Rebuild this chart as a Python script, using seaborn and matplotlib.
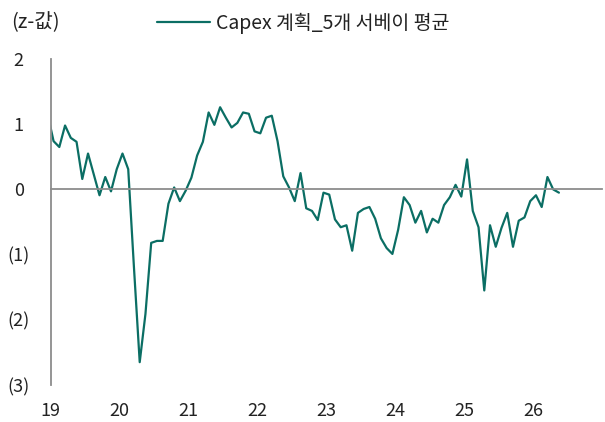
import numpy as np
import pandas as pd
import matplotlib
matplotlib.use("Agg")
import matplotlib.pyplot as plt
import seaborn as sns

# Monthly values, Dec 2018 .. May 2026 (Dec 2018 only shows as the clipped start)
start_year = 2018
start_month = 12
values = [
    1.14,
    # 2019
    0.74, 0.65, 0.98, 0.79, 0.73, 0.16, 0.55, 0.23, -0.09, 0.19, -0.03, 0.31,
    # 2020
    0.55, 0.31, -1.20, -2.65, -1.91, -0.82, -0.79, -0.79, -0.22, 0.03, -0.18, -0.02,
    # 2021
    0.18, 0.52, 0.73, 1.18, 0.99, 1.26, 1.10, 0.95, 1.02, 1.18, 1.16, 0.89,
    # 2022
    0.86, 1.10, 1.13, 0.74, 0.20, 0.03, -0.18, 0.25, -0.29, -0.33, -0.47, -0.05,
    # 2023
    -0.08, -0.46, -0.58, -0.55, -0.94, -0.36, -0.30, -0.27, -0.45, -0.75, -0.90, -0.99,
    # 2024
    -0.62, -0.12, -0.24, -0.51, -0.33, -0.66, -0.45, -0.51, -0.24, -0.12, 0.07, -0.11,
    # 2025
    0.46, -0.33, -0.58, -1.55, -0.55, -0.88, -0.59, -0.36, -0.88, -0.48, -0.43, -0.18,
    # 2026
    -0.09, -0.27, 0.19, 0.00, -0.05,
]
series_name = "Capex 계획_5개 서베이 평균"
y_unit = "(z-값)"
x_ticks = [2019, 2020, 2021, 2022, 2023, 2024, 2025, 2026]
x_ticklabels = ["19", "20", "21", "22", "23", "24", "25", "26"]
y_ticks = [2, 1, 0, -1, -2, -3]
y_ticklabels = ["2", "1", "0", "(1)", "(2)", "(3)"]

# mid-month positions in fractional years
t = start_year + (start_month - 1 + 0.5) / 12 + np.arange(len(values)) / 12
df = pd.DataFrame({"t": t, "v": values, "s": series_name})

sns.set_theme(style="white")
plt.rcParams["font.family"] = ["Noto Sans CJK KR", "DejaVu Sans"]

color = "#0B6E64"
gray = "#8C8C8C"
txtc = "#222222"
fs = 13

fig = plt.figure(figsize=(6.05, 4.22), dpi=100)
ax = fig.add_axes([50.7 / 605, 1 - 385 / 422, (602 - 50.7) / 605, (385 - 59) / 422])

sns.lineplot(data=df, x="t", y="v", color=color, linewidth=1.6, ax=ax, legend=False)

ax.set_xlim(2019, 2027)
ax.set_ylim(-3, 2)
ax.set_xlabel("")
ax.set_ylabel("")

for s in ["top", "right"]:
    ax.spines[s].set_visible(False)
ax.spines["left"].set_color(gray)
ax.spines["left"].set_linewidth(1.3)
ax.spines["bottom"].set_position(("data", 0))
ax.spines["bottom"].set_color(gray)
ax.spines["bottom"].set_linewidth(1.3)

ax.set_xticks(x_ticks)
ax.tick_params(axis="x", direction="out", length=4, width=1.3, color=gray,
               labelbottom=False)
ax.set_yticks(y_ticks)
ax.set_yticklabels(y_ticklabels)
ax.tick_params(axis="y", direction="out", length=4, width=1.3, color=gray,
               labelsize=fs, labelcolor=txtc, pad=19)
for lab in ax.get_yticklabels():
    lab.set_horizontalalignment("center")
    lab.set_fontweight("light")

sec = ax.secondary_xaxis("bottom")
sec.set_xticks(x_ticks)
sec.set_xticklabels(x_ticklabels)
sec.tick_params(length=0, labelsize=fs, labelcolor=txtc, pad=12)
sec.spines["bottom"].set_visible(False)
for lab in sec.get_xticklabels():
    lab.set_fontweight("light")

fig.text(11 / 605, 1 - 23 / 422, y_unit, fontsize=14.5, color=txtc,
         va="center", ha="left", fontweight="light")

# legend
handle = plt.Line2D([], [], color=color, linewidth=1.6)
lfs = 14
leg = fig.legend([handle], [series_name], loc="center left",
                 bbox_to_anchor=(157 / 605, 1 - 23 / 422), frameon=False,
                 fontsize=lfs, handlelength=53 / (lfs * 100 / 72),
                 handletextpad=6 / (lfs * 100 / 72), borderpad=0, borderaxespad=0)
for txt in leg.get_texts():
    txt.set_color(txtc)
    txt.set_fontweight("light")

fig.savefig("out.png", dpi=100)
